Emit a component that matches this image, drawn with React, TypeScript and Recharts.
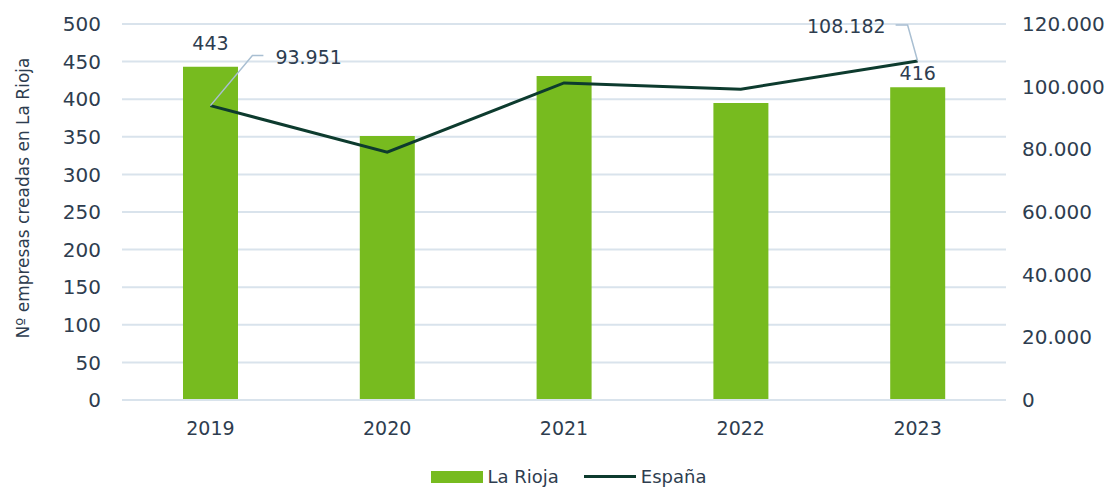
import React from "react";
import {
  ComposedChart,
  Bar,
  Line,
  XAxis,
  YAxis,
  CartesianGrid,
  Legend,
  LabelList,
} from "recharts";

const years = ["2019", "2020", "2021", "2022", "2023"];
const laRioja = [443, 351, 431, 395, 416];
const espana = [93951, 79100, 101200, 99200, 108182];
const leftTicks = [0, 50, 100, 150, 200, 250, 300, 350, 400, 450, 500];
const rightTicks = [0, 20000, 40000, 60000, 80000, 100000, 120000];

const data = years.map((year, i) => ({
  year,
  laRioja: laRioja[i],
  espana: espana[i],
}));

const FONT = "'DejaVu Sans', sans-serif";
const TEXT = "#2e3d4f";
const BAR = "#77bb1f";
const LINE = "#0d3b2e";
const GRID = "#d9e3ec";
const LEADER = "#a9bfd2";

const fmt = (v: number) => String(v).replace(/\B(?=(\d{3})+(?!\d))/g, ".");

const BarLabel = (props: any) => {
  const { x, y, width, value, index } = props;
  if (index !== 0 && index !== 4) return null;
  const lift = index === 0 ? 24 : 14;
  return (
    <text
      x={x + width / 2}
      y={y - lift}
      textAnchor="middle"
      dominantBaseline="central"
      fill={TEXT}
      fontSize={19}
      fontFamily={FONT}
    >
      {value}
    </text>
  );
};

const LineLabel = (props: any) => {
  const { x, y, value, index } = props;
  if (index === 0) {
    return (
      <g>
        <polyline
          points={`${x},${y} ${x + 42},${y - 50} ${x + 53},${y - 50}`}
          fill="none"
          stroke={LEADER}
          strokeWidth={1.5}
        />
        <text
          x={x + 65}
          y={y - 49}
          textAnchor="start"
          dominantBaseline="central"
          fill={TEXT}
          fontSize={19}
          fontFamily={FONT}
        >
          {fmt(value)}
        </text>
      </g>
    );
  }
  if (index === 4) {
    return (
      <g>
        <polyline
          points={`${x},${y} ${x - 10},${y - 36} ${x - 22},${y - 36}`}
          fill="none"
          stroke={LEADER}
          strokeWidth={1.5}
        />
        <text
          x={x - 32}
          y={y - 35}
          textAnchor="end"
          dominantBaseline="central"
          fill={TEXT}
          fontSize={19}
          fontFamily={FONT}
        >
          {fmt(value)}
        </text>
      </g>
    );
  }
  return null;
};

const LegendContent = () => (
  <div
    style={{
      display: "flex",
      justifyContent: "center",
      alignItems: "center",
      fontFamily: FONT,
      fontSize: 18,
      color: TEXT,
      marginLeft: 26,
    }}
  >
    <span style={{ display: "inline-block", width: 52, height: 12, background: BAR, marginRight: 5 }} />
    <span style={{ marginRight: 25 }}>La Rioja</span>
    <span style={{ display: "inline-block", width: 52, height: 3, background: LINE, marginRight: 5 }} />
    <span>España</span>
  </div>
);

const AxisTitle = () => (
  <text
    x={23}
    y={198}
    transform="rotate(-90 23 198)"
    textAnchor="middle"
    dominantBaseline="central"
    fill={TEXT}
    fontSize={17}
    fontFamily={FONT}
  >
    Nº empresas creadas en La Rioja
  </text>
);

export default function App() {
  return (
    <div style={{ position: "absolute", left: 0, top: 0, width: 1111, height: 488, background: "#fff" }}>
      <ComposedChart
        width={1111}
        height={488}
        data={data}
        margin={{ top: 24, right: 0, bottom: 17, left: 0 }}
      >
        <CartesianGrid yAxisId="left" vertical={false} stroke={GRID} strokeWidth={2} />
        <XAxis
          dataKey="year"
          axisLine={{ stroke: GRID, strokeWidth: 2 }}
          tickLine={false}
          tickSize={0}
          tickMargin={22}
          height={50}
          tick={{ fill: TEXT, fontSize: 19, fontFamily: FONT }}
        />
        <YAxis
          yAxisId="left"
          width={122}
          domain={[0, 500]}
          ticks={leftTicks}
          axisLine={false}
          tickLine={false}
          tickSize={0}
          tickMargin={21}
          tick={{ fill: TEXT, fontSize: 20, fontFamily: FONT }}
          label={{ content: () => <AxisTitle /> }}
        />
        <YAxis
          yAxisId="right"
          orientation="right"
          width={105}
          domain={[0, 120000]}
          ticks={rightTicks}
          tickFormatter={fmt}
          axisLine={false}
          tickLine={false}
          tickSize={0}
          tickMargin={16}
          tick={{ fill: TEXT, fontSize: 20, fontFamily: FONT, textAnchor: "start" }}
        />
        <Legend
          content={() => <LegendContent />}
          wrapperStyle={{ position: "absolute", top: 466, left: 0, width: 1111 }}
        />
        <Bar
          yAxisId="left"
          dataKey="laRioja"
          name="La Rioja"
          fill={BAR}
          barSize={55}
          isAnimationActive={false}
        >
          <LabelList dataKey="laRioja" content={BarLabel} />
        </Bar>
        <Line
          yAxisId="right"
          dataKey="espana"
          name="España"
          type="linear"
          stroke={LINE}
          strokeWidth={3}
          dot={false}
          activeDot={false}
          isAnimationActive={false}
        >
          <LabelList dataKey="espana" content={LineLabel} />
        </Line>
      </ComposedChart>
    </div>
  );
}
